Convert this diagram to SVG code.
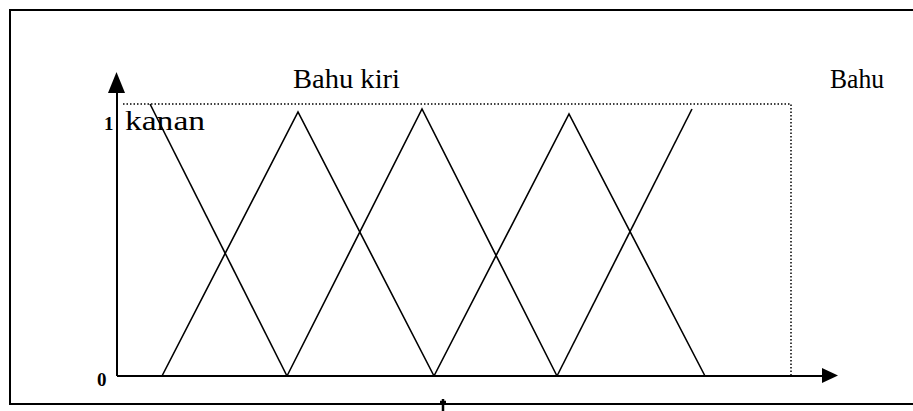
<svg xmlns="http://www.w3.org/2000/svg" width="913" height="411" viewBox="0 0 913 411">
<defs>
<style>
.lbl{font-family:"Liberation Serif","Times New Roman",serif;font-size:27px;fill:#000}
.num{font-family:"Liberation Serif","Times New Roman",serif;font-size:19px;font-weight:bold;fill:#000}
.mf{fill:none;stroke:#000;stroke-width:1.6}
.axis{fill:none;stroke:#000;stroke-width:2}
.dot{fill:none;stroke:#000;stroke-width:1.5;stroke-dasharray:1.5 2}
</style>
</defs>
<rect width="913" height="411" fill="#fff"/>
<g id="frame">
<path d="M913,10 H10 V404 H913" fill="none" stroke="#000" stroke-width="2"/>
</g>
<g id="connectors">
<path class="axis" d="M117,376 V92"/>
<path d="M108,93 L116.5,72 L125,93 Z" fill="#000"/>
<path class="axis" d="M117,376 H823"/>
<path d="M822,368 L838,375.5 L822,383 Z" fill="#000"/>
<path class="dot" d="M123,104 H791 V376"/>
<path class="mf" d="M150,104 L287,376"/>
<path class="mf" d="M162,376 L298,112 L434,376"/>
<path class="mf" d="M287,376 L422,109 L557,376"/>
<path class="mf" d="M434,376 L569,114 L705,376"/>
<path class="mf" d="M557,376 L692,109"/>
<path d="M443,399 V411 M440,402 H446" fill="none" stroke="#000" stroke-width="2.5"/>
</g>
<g id="labels">
<text class="lbl" x="293" y="88" textLength="107" lengthAdjust="spacingAndGlyphs">Bahu kiri</text>
<text class="lbl" x="830" y="88" textLength="54" lengthAdjust="spacingAndGlyphs">Bahu</text>
<text class="lbl" x="125" y="130" textLength="80" lengthAdjust="spacingAndGlyphs">kanan</text>
<text class="num" x="104" y="130">1</text>
<text class="num" x="97" y="386">0</text>
</g>
</svg>
